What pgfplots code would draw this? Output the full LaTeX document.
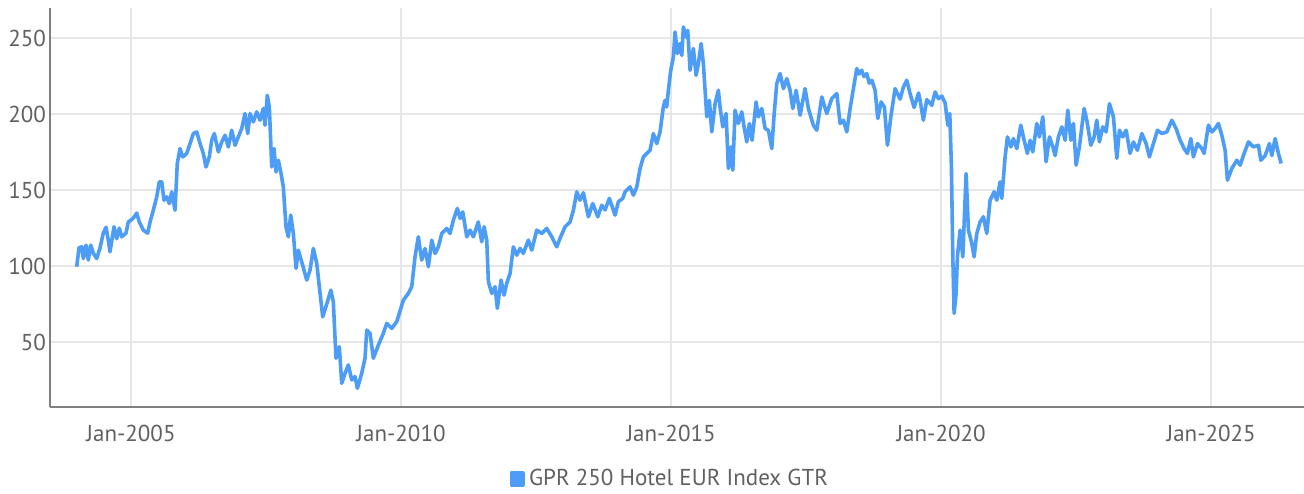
\documentclass[border=0pt]{standalone}
\usepackage{fontspec}
\setmainfont{PT Sans}
\usepackage{pgfplots}
\usepackage{pgfplotstable}
\pgfplotsset{compat=1.18}
\definecolor{lineblue}{HTML}{4D9CF6}
\definecolor{txtgray}{HTML}{606060}
\definecolor{gridgray}{HTML}{E6E6E6}
\definecolor{axgray}{HTML}{808080}
\pgfplotstableread{
x y
2003.994 99.6
2004.037 112
2004.087 112.7
2004.117 105
2004.167 113.8
2004.209 104
2004.254 113.8
2004.302 108.5
2004.365 105
2004.426 112
2004.487 121.7
2004.537 125.6
2004.580 117
2004.611 109.4
2004.685 125.9
2004.735 118
2004.783 125
2004.828 119.3
2004.907 121.7
2004.950 129
2005.043 131.6
2005.106 134.9
2005.154 129
2005.228 123.7
2005.309 121.7
2005.352 129
2005.413 136.8
2005.476 145.6
2005.524 155.5
2005.569 155.5
2005.611 143.4
2005.661 145.6
2005.709 141.2
2005.754 148.9
2005.815 136.8
2005.857 167.6
2005.907 177.4
2005.957 171.9
2006.031 174.2
2006.093 180.7
2006.154 187.3
2006.217 188.4
2006.278 180.7
2006.339 174.2
2006.389 165.3
2006.450 171.9
2006.494 182.9
2006.543 187.3
2006.617 175.2
2006.680 181.8
2006.741 186.2
2006.802 178.5
2006.865 189.5
2006.926 179.6
2006.987 185.1
2007.050 190.6
2007.111 200.5
2007.161 187.3
2007.204 200.5
2007.265 195
2007.328 201.6
2007.389 196.1
2007.450 203.8
2007.481 192.8
2007.524 212.5
2007.561 204.8
2007.606 165.3
2007.648 177.4
2007.685 162
2007.728 169.7
2007.778 161
2007.820 152.2
2007.870 125.9
2007.913 119.3
2007.957 133.6
2008.006 121.5
2008.056 98.5
2008.098 110.5
2008.161 102.8
2008.254 90.8
2008.315 97.4
2008.376 111.6
2008.439 101.8
2008.487 86.4
2008.550 66.6
2008.624 75
2008.700 84.2
2008.746 76.5
2008.796 39.3
2008.857 46.9
2008.902 22.8
2008.963 29.4
2009.024 34.9
2009.087 25
2009.148 27.2
2009.191 19.5
2009.272 29.4
2009.333 39.3
2009.365 57.9
2009.426 55.7
2009.487 39.3
2009.580 48
2009.672 55.7
2009.735 62.3
2009.828 59
2009.920 63.4
2010.043 77.6
2010.135 82
2010.198 86.4
2010.259 106.1
2010.320 119.3
2010.383 104
2010.444 111.6
2010.506 99.6
2010.569 117.1
2010.630 108.4
2010.691 112.7
2010.754 121.5
2010.846 124.8
2010.907 121.5
2010.969 130.3
2011.043 138
2011.093 131.4
2011.143 135.7
2011.217 119.3
2011.278 123.7
2011.339 119.3
2011.431 129.1
2011.494 116
2011.537 125.9
2011.587 117.1
2011.617 89.7
2011.680 82
2011.741 86.4
2011.783 72.2
2011.852 90.8
2011.907 80.9
2011.957 88.6
2012.019 95.2
2012.080 112.7
2012.143 107.2
2012.204 111.6
2012.265 108.4
2012.357 117.1
2012.420 110.5
2012.513 123.7
2012.606 121.5
2012.698 124.8
2012.791 119.3
2012.883 112.7
2012.944 118.3
2013.037 125.9
2013.130 129.1
2013.191 136.8
2013.254 148.9
2013.315 143.4
2013.376 148.3
2013.469 132.5
2013.550 141.2
2013.643 132.5
2013.717 140.1
2013.778 137
2013.857 144.6
2013.963 133.6
2014.024 142.4
2014.106 144.6
2014.148 148.9
2014.241 152.2
2014.302 146.7
2014.365 152.2
2014.426 164.3
2014.487 171.9
2014.550 174.2
2014.611 176.3
2014.672 187.3
2014.735 180.7
2014.796 188.4
2014.857 204.8
2014.889 209.2
2014.920 204.8
2014.950 215.8
2014.994 229
2015.043 237.7
2015.074 254.2
2015.117 240
2015.167 246.6
2015.198 238.8
2015.228 257.5
2015.278 250.9
2015.309 255.3
2015.352 229
2015.413 243.3
2015.463 225.7
2015.506 233.4
2015.556 246.6
2015.598 233.4
2015.661 198.3
2015.709 209.2
2015.754 188.4
2015.815 207
2015.876 215.8
2015.907 204.8
2015.957 191.7
2016.019 200.5
2016.061 164.3
2016.106 178.5
2016.143 163.2
2016.185 202.7
2016.246 193.9
2016.309 201.6
2016.352 191.7
2016.402 181.8
2016.450 193.9
2016.500 182.9
2016.574 208.1
2016.617 198.3
2016.680 203.8
2016.741 190.6
2016.802 189.5
2016.865 177.4
2016.907 199.4
2016.957 220.2
2017.019 226.8
2017.080 216.9
2017.143 223.5
2017.204 215.8
2017.254 203.8
2017.315 215.8
2017.389 199.4
2017.481 216.9
2017.543 203.8
2017.635 192.8
2017.698 189.5
2017.791 211.4
2017.883 200.5
2017.976 210.4
2018.069 213.6
2018.130 193.9
2018.191 196.1
2018.254 188.4
2018.315 203.8
2018.376 216.9
2018.439 230.1
2018.480 226.5
2018.531 229
2018.570 224.8
2018.624 226.8
2018.670 220.5
2018.717 222.4
2018.778 215.8
2018.828 197.2
2018.889 208.1
2018.950 204.8
2019.006 179.6
2019.069 198.3
2019.148 216.9
2019.241 210
2019.302 218
2019.365 222.4
2019.426 213.6
2019.500 204.5
2019.583 214
2019.611 209.2
2019.672 196.1
2019.735 209.7
2019.828 205.9
2019.889 214.7
2019.950 210.3
2020.013 212
2020.074 207.5
2020.124 192.8
2020.161 200.5
2020.191 165.3
2020.217 106.1
2020.241 68.9
2020.278 82
2020.302 106.1
2020.352 123.7
2020.402 106.1
2020.463 161
2020.506 123.7
2020.569 114.9
2020.611 106.1
2020.661 121.5
2020.722 129.1
2020.783 132.5
2020.846 121.5
2020.907 143.4
2020.981 148.9
2021.031 143.4
2021.093 155.5
2021.124 144.6
2021.185 171.9
2021.228 185.1
2021.291 178.5
2021.339 184
2021.402 177.4
2021.476 192.8
2021.537 182.9
2021.598 174.2
2021.648 182.9
2021.698 175.2
2021.772 193.9
2021.820 185.1
2021.883 198.3
2021.944 168.7
2022.006 185.1
2022.069 178.5
2022.111 172.8
2022.172 185.1
2022.235 191.7
2022.296 182.9
2022.346 202.7
2022.402 182.9
2022.450 193.9
2022.500 166.5
2022.561 178.5
2022.606 191.7
2022.648 203.8
2022.698 196.1
2022.772 179.6
2022.833 185.1
2022.883 196.1
2022.931 181.8
2022.994 191.7
2023.056 188.4
2023.117 207
2023.191 198.3
2023.254 171
2023.302 189.5
2023.365 185.1
2023.426 189.5
2023.500 174.2
2023.561 181.8
2023.635 176.3
2023.717 187.3
2023.796 180.7
2023.857 171.9
2023.931 180.7
2024.006 189.5
2024.087 187.3
2024.180 188.4
2024.272 196.1
2024.352 190.6
2024.426 182.9
2024.500 177.4
2024.561 174.2
2024.624 184
2024.672 171.9
2024.746 180.7
2024.828 177.4
2024.870 174.2
2024.950 192.8
2025.013 188.4
2025.074 190.6
2025.135 193.9
2025.198 186.2
2025.259 176.3
2025.302 156.6
2025.383 164.3
2025.476 169.7
2025.537 166.5
2025.611 174.2
2025.691 181.8
2025.783 178.5
2025.876 179.6
2025.920 169.7
2026.000 172.8
2026.080 180.7
2026.124 172.8
2026.185 184
2026.246 174.2
2026.296 167.6
}\datatable
\begin{document}
\fontsize{11.5}{14}\selectfont
\begin{tikzpicture}
\path[use as bounding box] (-25pt,-43pt) rectangle (627pt,203.5pt);
\begin{axis}[
  scale only axis,
  width=627pt, height=199.5pt,
  xmin=2003.5, xmax=2026.72,
  ymin=7.2, ymax=270,
  axis x line=bottom, axis y line=left,
  axis line style={draw=axgray, line width=1pt, -},
  xtick={2005,2010,2015,2020,2025},
  xticklabels={Jan-2005,Jan-2010,Jan-2015,Jan-2020,Jan-2025},
  ytick={50,100,150,200,250},
  major tick length=0pt,
  grid=major,
  major grid style={draw=gridgray, line width=1pt},
  tick label style={text=txtgray, font=\fontsize{11.5}{14}\selectfont},
  /pgf/number format/assume math mode=true,
  xticklabel style={yshift=-5pt},
  yticklabel style={xshift=2pt},
  legend style={at={(0.495,-0.18)}, anchor=center, draw=none, fill=none,
    font=\fontsize{11.5}{14}\selectfont, text=txtgray, inner sep=0pt},
  legend cell align=left,
  legend image code/.code={\fill[lineblue] (0pt,-3pt) rectangle (6pt,3pt);},
  clip=false,
]
\addplot[lineblue, line width=1.8pt, line join=round] table[x=x, y=y] {\datatable};
\addlegendentry{GPR 250 Hotel EUR Index GTR}
\end{axis}
\end{tikzpicture}
\end{document}
